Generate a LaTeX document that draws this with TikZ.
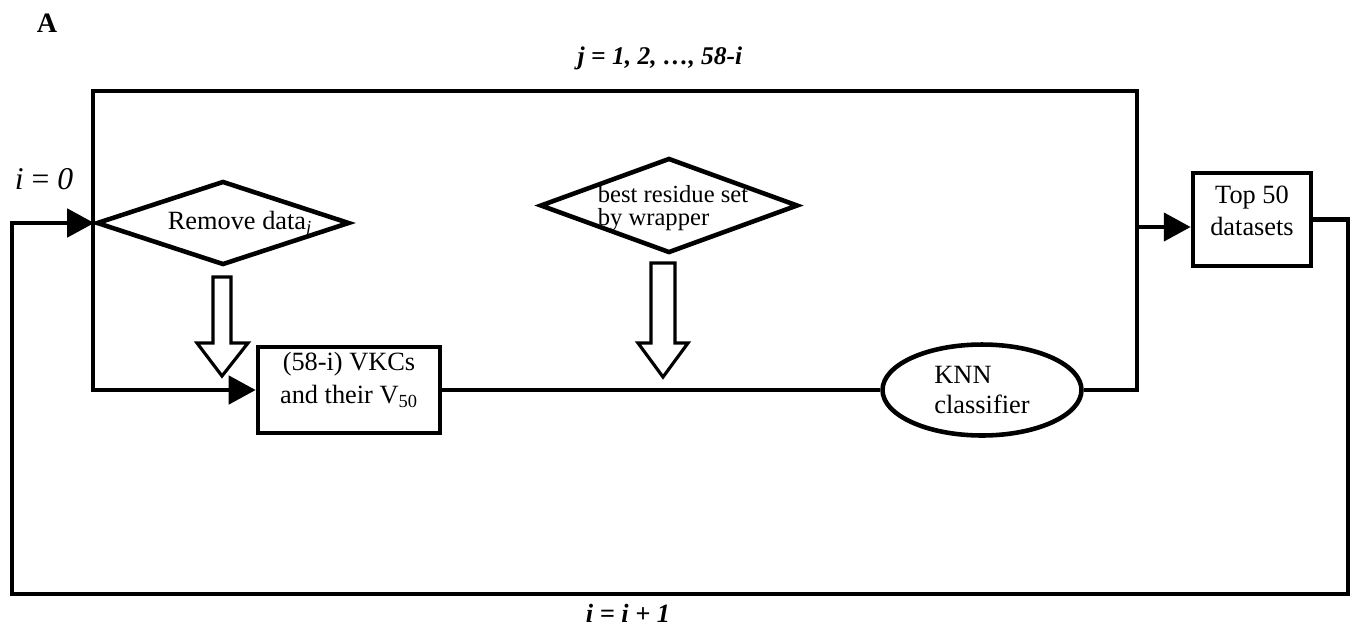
\documentclass[tikz,border=0pt]{standalone}
\usepackage{fontspec}
\setmainfont{Liberation Serif}
\usetikzlibrary{shapes.geometric,arrows.meta}
\begin{document}
\begin{tikzpicture}[x=0.02cm,y=-0.02cm,
  line/.style={line width=2.6pt},
  arr/.style={line width=2.6pt,-{Triangle[length=0.54cm,width=0.56cm]}},
  box/.style={draw,line width=2.6pt,inner sep=0pt},
  dia/.style={draw,diamond,line width=2.6pt,inner sep=0pt},
  hollow/.style={draw,line width=1.8pt,fill=white,line join=miter},
  txt/.style={inner sep=0pt,align=center,font=\fontsize{15}{18}\selectfont}
]
\useasboundingbox (0,0) rectangle (1355,630);

% labels
\node[inner sep=0pt,font=\fontsize{16}{18}\selectfont\bfseries] (A) at (47,23) {A};
\node[inner sep=0pt,font=\fontsize{14.5}{17}\selectfont\bfseries\itshape] (jlab) at (660,58) {j = 1, 2, \dots, 58-i};
\node[inner sep=0pt,font=\fontsize{18}{20}\selectfont] (i0) at (44,179) {\itshape i {\upshape =} 0};
\node[inner sep=0pt,font=\fontsize{15}{18}\selectfont\bfseries\itshape] (ilab) at (628,613) {i = i + 1};

% shapes
\node[dia,minimum width=5.06cm,minimum height=1.68cm] (rem) at (223,223) {};
\node[txt] (remt) at (240,224) {Remove data\textsubscript{\itshape j}};
\node[dia,minimum width=5.16cm,minimum height=1.9cm] (best) at (669,205.5) {};
\node[inner sep=0pt,align=left,font=\fontsize{14}{13.5}\selectfont] (bestt) at (673,208) {best residue set\\by wrapper};
\node[box,minimum width=3.64cm,minimum height=1.72cm] (vkc) at (349,390) {};
\node[txt,font=\fontsize{15}{19}\selectfont] (vkct) at (349,380) {(58-i) VKCs\\and their V\textsubscript{50}};
\node[draw,ellipse,line width=2.6pt,minimum width=3.98cm,minimum height=1.82cm,inner sep=0pt,align=left,font=\fontsize{15}{17.5}\selectfont] (knn) at (982,390) {KNN\\classifier};
\node[box,minimum width=2.36cm,minimum height=1.86cm] (top) at (1252,219.5) {};
\node[txt,font=\fontsize{15}{18}\selectfont] (topt) at (1252,211) {Top 50\\datasets};

% hollow block arrows
\draw[hollow] (213,277) -- (231,277) -- (231,343) -- (248,343) -- (222,376) -- (197,343) -- (213,343) -- cycle;
\draw[hollow] (651,263) -- (675,263) -- (675,343) -- (688,343) -- (663,377) -- (638,343) -- (651,343) -- cycle;

% inner loop
\coordinate (tr) at (1137,91);
\coordinate (tl) at (93,91);
\coordinate (ta) at (1137,227);
\draw[line] (vkc.east) -- (knn.west);
\draw[arr] (knn.east) -| (tr) -- (tl) |- (vkc.west);
\draw[arr] (ta) -- (ta -| top.west);

% outer loop
\coordinate (br) at (1348,594);
\coordinate (bl) at (12,594);
\draw[arr] (top.east) -| (br) -- (bl) |- (rem.west);
\end{tikzpicture}
\end{document}
